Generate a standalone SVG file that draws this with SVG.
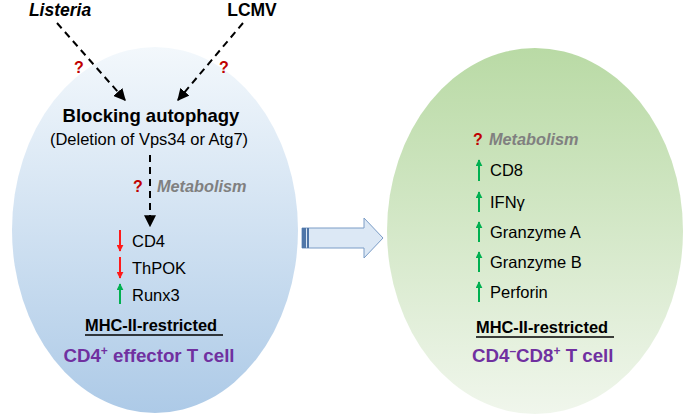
<svg xmlns="http://www.w3.org/2000/svg" width="685" height="416" viewBox="0 0 685 416">
<defs>
<linearGradient id="gBlue" x1="0" y1="0" x2="0" y2="1">
<stop offset="0" stop-color="#f3f8fc"/>
<stop offset="1" stop-color="#adcae7"/>
</linearGradient>
<linearGradient id="gGreen" x1="0" y1="0" x2="0" y2="1">
<stop offset="0" stop-color="#b9daa5"/>
<stop offset="1" stop-color="#f0f6ec"/>
</linearGradient>
<marker id="ah" viewBox="0 0 10 10" refX="9" refY="5" markerWidth="6" markerHeight="6" orient="auto" markerUnits="strokeWidth">
<path d="M0,0 L10,5 L0,10 z" fill="#000"/>
</marker>
<marker id="ahR" viewBox="0 0 10 10" refX="9" refY="5" markerWidth="3.5" markerHeight="3.5" orient="auto" markerUnits="strokeWidth">
<path d="M0,0 L10,5 L0,10 z" fill="#ff1a1a"/>
</marker>
<marker id="ahG" viewBox="0 0 10 10" refX="9" refY="5" markerWidth="3.5" markerHeight="3.5" orient="auto" markerUnits="strokeWidth">
<path d="M0,0 L10,5 L0,10 z" fill="#00b050"/>
</marker>
</defs>
<style>
text{font-family:"Liberation Sans",Arial,sans-serif;}
.t{font-size:16.5px;fill:#000;}
.head{font-size:18.5px;font-weight:bold;fill:#000;}
.src{font-size:17.5px;font-weight:bold;fill:#000;}
.q{font-size:16px;font-weight:bold;fill:#c00000;}
.met{font-size:16.3px;font-weight:bold;font-style:italic;fill:#808080;}
.pur{font-size:18.7px;font-weight:bold;fill:#7030a0;}
.mhc{font-size:16.4px;font-weight:bold;fill:#000;}
.dash{stroke:#000;stroke-width:2;stroke-dasharray:7,5;fill:none;}
.red{stroke:#ff1a1a;stroke-width:2;fill:none;}
.grn{stroke:#00b050;stroke-width:2;fill:none;}
</style>

<g id="left-cell">
<ellipse cx="155" cy="230" rx="143" ry="183" fill="url(#gBlue)"/>
<text class="head" x="151" y="122" text-anchor="middle">Blocking autophagy</text>
<text class="t" x="149" y="145" text-anchor="middle">(Deletion of Vps34 or Atg7)</text>
<text class="q" x="138" y="192" text-anchor="middle">?</text>
<text class="met" x="157" y="192">Metabolism</text>
<line class="red" x1="120" y1="230" x2="120" y2="251" marker-end="url(#ahR)"/>
<text class="t" x="132" y="247">CD4</text>
<line class="red" x1="120" y1="257" x2="120" y2="278" marker-end="url(#ahR)"/>
<text class="t" x="132" y="274">ThPOK</text>
<line class="grn" x1="120" y1="304" x2="120" y2="284" marker-end="url(#ahG)"/>
<text class="t" x="132" y="301">Runx3</text>
<text class="mhc" x="85" y="331">MHC-II-restricted</text>
<line x1="85" y1="335" x2="223" y2="335" stroke="#000" stroke-width="1.5"/>
<text class="pur" x="149" y="362" text-anchor="middle">CD4<tspan font-size="12" dy="-7">+</tspan><tspan dy="7"> effector T cell</tspan></text>
</g>

<g id="right-cell">
<ellipse cx="535" cy="231" rx="148" ry="183" fill="url(#gGreen)"/>
<text class="q" x="478" y="145" text-anchor="middle">?</text>
<text class="met" x="489" y="145">Metabolism</text>
<line class="grn" x1="479" y1="181" x2="479" y2="160" marker-end="url(#ahG)"/>
<text class="t" x="490" y="176">CD8</text>
<line class="grn" x1="479" y1="212" x2="479" y2="192" marker-end="url(#ahG)"/>
<text class="t" x="490" y="208">IFNγ</text>
<line class="grn" x1="479" y1="242" x2="479" y2="222" marker-end="url(#ahG)"/>
<text class="t" x="490" y="238">Granzyme A</text>
<line class="grn" x1="479" y1="272" x2="479" y2="252" marker-end="url(#ahG)"/>
<text class="t" x="490" y="268">Granzyme B</text>
<line class="grn" x1="479" y1="302" x2="479" y2="282" marker-end="url(#ahG)"/>
<text class="t" x="490" y="298">Perforin</text>
<text class="mhc" x="476" y="333">MHC-II-restricted</text>
<line x1="476" y1="337" x2="614" y2="337" stroke="#000" stroke-width="1.5"/>
<text class="pur" x="472" y="362">CD4<tspan font-size="12" dy="-7">–</tspan><tspan dy="7">CD8</tspan><tspan font-size="12" dy="-7">+</tspan><tspan dy="7"> T cell</tspan></text>
</g>

<g id="listeria">
<text class="src" x="60" y="16" text-anchor="middle" font-style="italic">Listeria</text>
</g>
<g id="lcmv">
<text class="src" x="252" y="16" text-anchor="middle">LCMV</text>
</g>

<g id="transition-arrow">
<path d="M302,228 L364,228 L364,218 L383,238 L364,258 L364,248 L302,248 z" fill="#dce8f5" stroke="#7a9cc6" stroke-width="1"/>
<rect x="302" y="228" width="4" height="20" fill="#4f76a8"/>
<rect x="307" y="228" width="2" height="20" fill="#4f76a8"/>
</g>

<g id="connectors">
<line class="dash" x1="57" y1="23" x2="125" y2="100" marker-end="url(#ah)"/>
<text class="q" x="79" y="73" text-anchor="middle">?</text>
<line class="dash" x1="243" y1="23" x2="178" y2="100" marker-end="url(#ah)"/>
<text class="q" x="224" y="73" text-anchor="middle">?</text>
<line class="dash" x1="150" y1="155" x2="150" y2="226" marker-end="url(#ah)"/>
</g>
</svg>
